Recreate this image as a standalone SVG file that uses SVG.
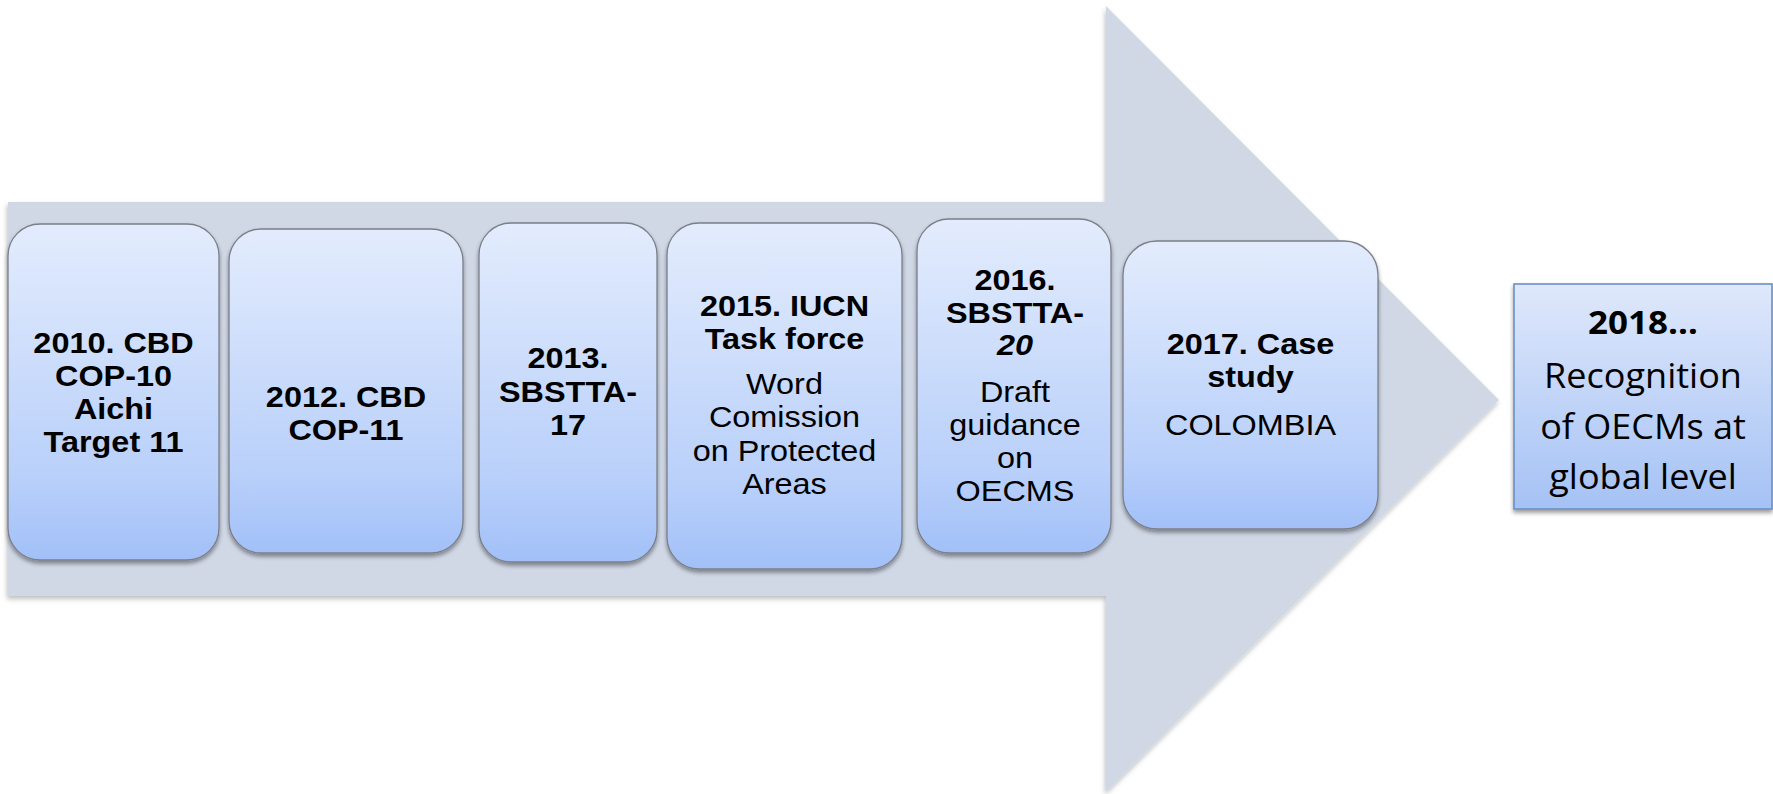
<svg xmlns="http://www.w3.org/2000/svg" width="1773" height="794" viewBox="0 0 1773 794">
  <defs>
    <linearGradient id="cardFill" x1="0" y1="0" x2="0" y2="1">
      <stop offset="0" stop-color="#E3ECFD"/>
      <stop offset="0.75" stop-color="#B9D0FA"/>
      <stop offset="1" stop-color="#A2C0F8"/>
    </linearGradient>
    <linearGradient id="goalFill" x1="0" y1="0" x2="0" y2="1">
      <stop offset="0" stop-color="#DFE8FB"/>
      <stop offset="1" stop-color="#A5C2F5"/>
    </linearGradient>
    <filter id="cardShadow" x="-10%" y="-10%" width="120%" height="125%">
      <feDropShadow dx="0" dy="3" stdDeviation="2" flood-color="#000" flood-opacity="0.4"/>
    </filter>
    <filter id="arrowShadow" x="-5%" y="-5%" width="110%" height="110%">
      <feDropShadow dx="-1" dy="3" stdDeviation="2.5" flood-color="#000" flood-opacity="0.25"/>
    </filter>
  </defs>
  <style>
    .card { fill: url(#cardFill); stroke: #7A7F88; stroke-width: 1.3; filter: url(#cardShadow); }
    .goal { fill: url(#goalFill); stroke: #6A90C8; stroke-width: 1.6; filter: url(#cardShadow); }
    text { text-anchor: middle; fill: #000; }
    .b { font-family: "Liberation Sans", Arial, sans-serif; font-weight: bold; font-size: 30px; }
    .r { font-family: "Liberation Sans", Arial, sans-serif; font-size: 30px; }
    .bi { font-family: "Liberation Sans", Arial, sans-serif; font-weight: bold; font-style: italic; font-size: 30px; }
    .cb { font-family: "Open Sans", "Noto Sans", sans-serif; font-weight: bold; font-size: 33px; }
    .cr { font-family: "Open Sans", "Noto Sans", sans-serif; font-size: 34px; }
  </style>

  <rect width="1773" height="794" fill="#FFFFFF"/>

  <!-- large background arrow -->
  <g id="timeline-arrow">
    <polygon points="8,202 1106,202 1106,6 1499,400 1106,792 1106,596 8,596" fill="#D0D8E6" filter="url(#arrowShadow)"/>
  </g>

  <g id="connectors"/>

  <g id="node-2010">
    <rect class="card" x="8" y="224" width="211" height="336" rx="32"/>
    <g transform="translate(113.5 0) scale(1.08 1)">
      <text class="b" x="0" y="353">2010. CBD</text>
      <text class="b" x="0" y="386">COP-10</text>
      <text class="b" x="0" y="419">Aichi</text>
      <text class="b" x="0" y="452">Target 11</text>
    </g>
  </g>

  <g id="node-2012">
    <rect class="card" x="229" y="229" width="234" height="324" rx="32"/>
    <g transform="translate(346 0) scale(1.08 1)">
      <text class="b" x="0" y="407">2012. CBD</text>
      <text class="b" x="0" y="440">COP-11</text>
    </g>
  </g>

  <g id="node-2013">
    <rect class="card" x="479" y="223" width="178" height="339" rx="32"/>
    <g transform="translate(568 0) scale(1.08 1)">
      <text class="b" x="0" y="368">2013.</text>
      <text class="b" x="0" y="402">SBSTTA-</text>
      <text class="b" x="0" y="435">17</text>
    </g>
  </g>

  <g id="node-2015">
    <rect class="card" x="667" y="223" width="235" height="346" rx="32"/>
    <g transform="translate(784.5 0) scale(1.08 1)">
      <text class="b" x="0" y="316">2015. IUCN</text>
      <text class="b" x="0" y="349">Task force</text>
      <text class="r" x="0" y="394">Word</text>
      <text class="r" x="0" y="427">Comission</text>
      <text class="r" x="0" y="461">on Protected</text>
      <text class="r" x="0" y="494">Areas</text>
    </g>
  </g>

  <g id="node-2016">
    <rect class="card" x="917" y="219" width="194" height="334" rx="32"/>
    <g transform="translate(1015 0) scale(1.08 1)">
      <text class="b" x="0" y="290">2016.</text>
      <text class="b" x="0" y="323">SBSTTA-</text>
      <text class="bi" x="0" y="355">20</text>
      <text class="r" x="0" y="402">Draft</text>
      <text class="r" x="0" y="435">guidance</text>
      <text class="r" x="0" y="468">on</text>
      <text class="r" x="0" y="501">OECMS</text>
    </g>
  </g>

  <g id="node-2017">
    <rect class="card" x="1123" y="241" width="255" height="288" rx="34"/>
    <g transform="translate(1250.5 0) scale(1.08 1)">
      <text class="b" x="0" y="354">2017. Case</text>
      <text class="b" x="0" y="387">study</text>
      <text class="r" x="0" y="435">COLOMBIA</text>
    </g>
  </g>

  <g id="node-2018">
    <rect class="goal" x="1514" y="284" width="258" height="225"/>
    <g transform="translate(1643 0) scale(1.06 1)">
      <text class="cb" x="0" y="334">2018…</text>
      <text class="cr" x="0" y="388">Recognition</text>
      <text class="cr" x="0" y="439">of OECMs at</text>
      <text class="cr" x="0" y="489">global level</text>
    </g>
  </g>
</svg>
